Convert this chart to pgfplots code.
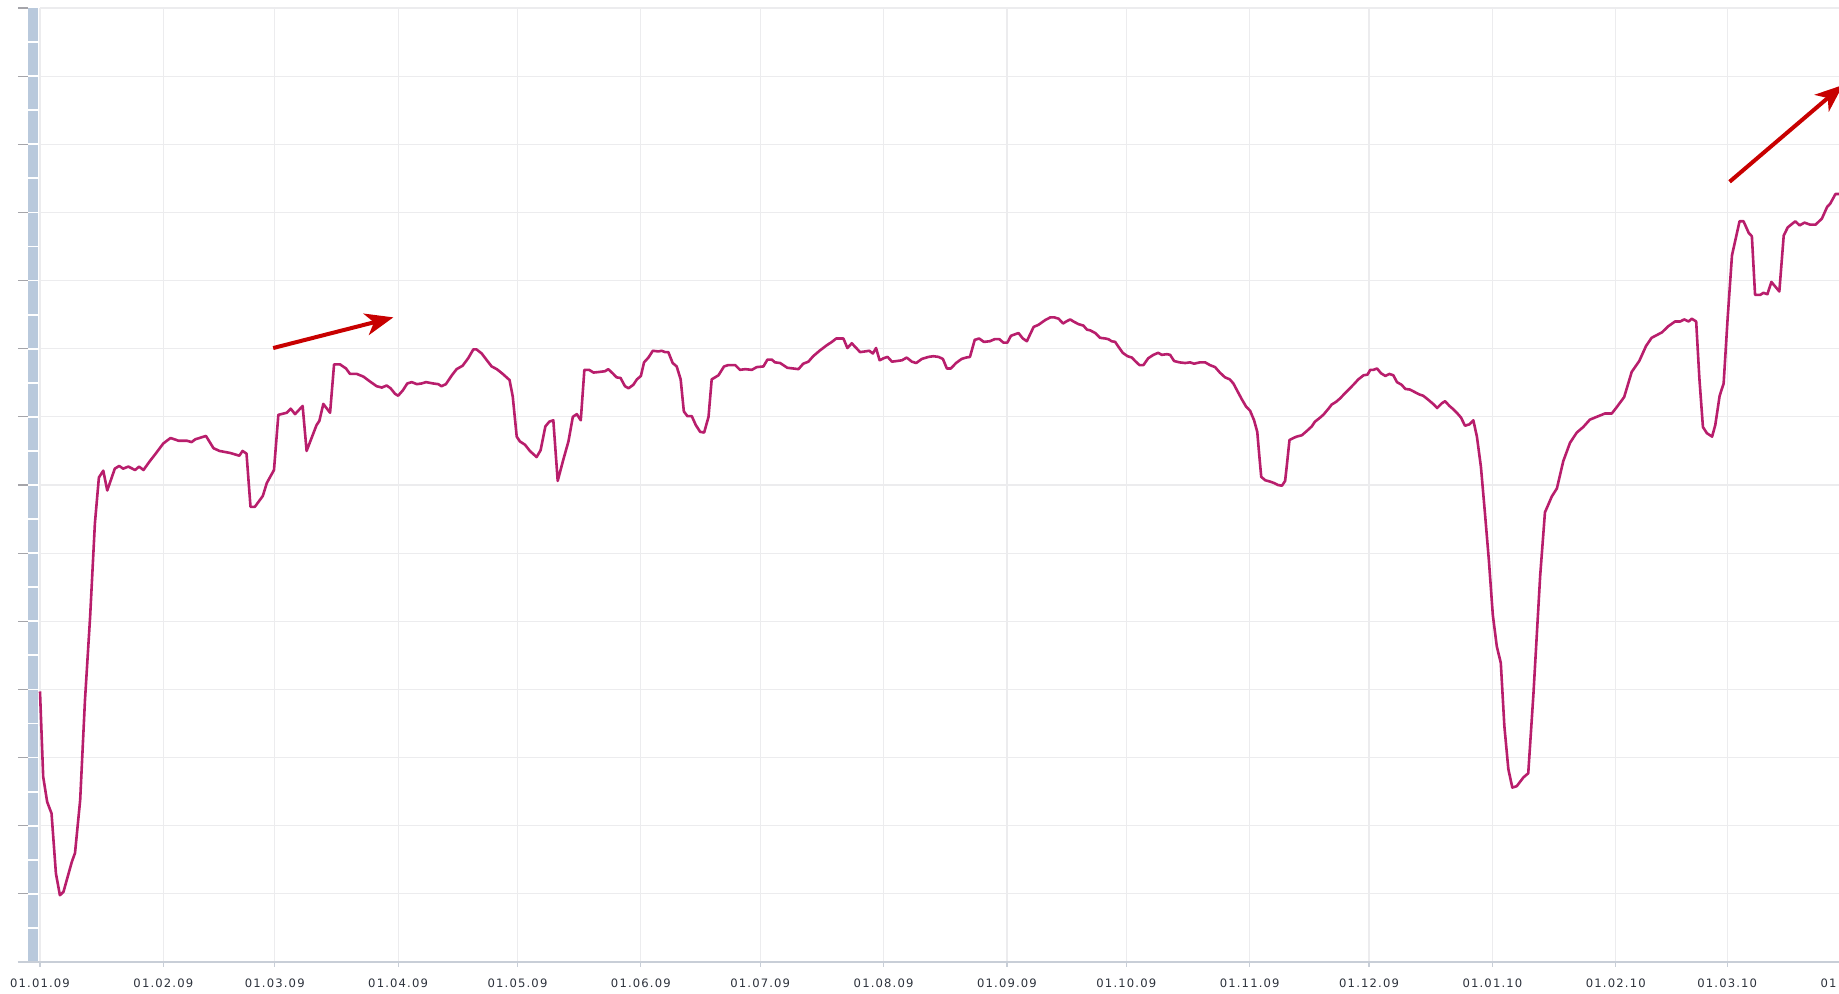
\documentclass[border=0pt]{standalone}
\usepackage{pgfplots}
\pgfplotsset{compat=1.18}
\usepackage{fontspec}
\usetikzlibrary{arrows.meta}
\newfontfamily\labfont[LetterSpace=10]{DejaVu Sans}
\definecolor{linec}{RGB}{184,30,108}
\definecolor{arrowc}{RGB}{200,0,0}
\definecolor{gridc}{RGB}{236,236,238}
\definecolor{stripc}{RGB}{185,201,220}
\definecolor{tickc}{RGB}{165,165,170}
\definecolor{axisc}{RGB}{200,206,215}
\definecolor{labc}{RGB}{45,50,60}
\tikzset{labsty/.style={font=\labfont\fontsize{5.8pt}{6.5pt}\selectfont, text=labc, inner sep=0pt, anchor=north}}
\begin{document}
\begin{tikzpicture}
\useasboundingbox (0,0) rectangle (919.5pt,496.5pt);
\clip (0,0) rectangle (919.5pt,496.5pt);
\begin{axis}[
 scale only axis, width=899.5pt, height=477pt,
 at={(20pt,15.5pt)}, anchor=south west,
 xmin=0, xmax=452.1, ymin=0, ymax=14,
 clip=false,
 axis line style={draw=none},
 xtick={0,31,59,90,120,151,181,212,243,273,304,334,365,396,424},
 xticklabels={01.01.09,01.02.09,01.03.09,01.04.09,01.05.09,01.06.09,01.07.09,01.08.09,01.09.09,01.10.09,01.11.09,01.12.09,01.01.10,01.02.10,01.03.10},
 ytick={0,...,14},
 yticklabels={,,},
 grid=major,
 major grid style={draw=gridc, line width=0.6pt},
 tick align=inside,
 xtick style={draw=none},
 ytick style={draw=none},
 xticklabel style={labsty, yshift=-8.0pt},
]
% left strip and ticks
\fill[stripc] (axis cs:-3.016,0) rectangle (axis cs:-0.503,14);
\pgfplotsinvokeforeach{0.5,1,1.5,2,2.5,3,3.5,4,4.5,5,5.5,6,6.5,7,7.5,8,8.5,9,9.5,10,10.5,11,11.5,12,12.5,13,13.5}{
 \draw[white, line width=0.9pt] (axis cs:-3.016,#1) -- (axis cs:-0.503,#1);
}
\pgfplotsinvokeforeach{0,1,2,3,4,5,6,7,8,9,10,11,12,13,14}{
 \draw[tickc, line width=0.6pt] (axis cs:-5.53,#1) -- (axis cs:-3.016,#1);
}
\draw[axisc, line width=0.8pt] (axis cs:-5.53,0) -- (axis cs:452.1,0);
\pgfplotsinvokeforeach{0,31,59,90,120,151,181,212,243,273,304,334,365,396,424}{
 \draw[axisc, line width=0.6pt] (axis cs:#1,0) -- ++(0,-2.5pt);
}
\node[labsty, yshift=-8.0pt] at (axis cs:455,0) {01.04.10};

\addplot[linec, line width=1.3pt, line join=round, mark=none] coordinates {
(0,3.97)(0.8,2.72)(1.8,2.35)(2.9,2.18)(4.0,1.30)(5.0,0.98)(5.9,1.03)(8.0,1.47)(8.8,1.60)(10.1,2.38)(11.3,3.84)(12.6,5.07)(13.8,6.44)(14.8,7.11)(15.9,7.21)(16.9,6.92)(18.8,7.24)(19.9,7.28)(20.9,7.24)(22.2,7.27)(23.9,7.22)(24.9,7.27)(26.0,7.22)(27.6,7.35)(29.2,7.47)(31.0,7.61)(32.8,7.69)(34.8,7.65)(36.9,7.65)(38.1,7.63)(39.0,7.67)(41.7,7.72)(43.6,7.54)(45.1,7.50)(47.8,7.47)(50.1,7.43)(50.9,7.50)(51.9,7.46)(52.9,6.68)(54.0,6.68)(56.0,6.84)(57.0,7.03)(58.8,7.22)(59.9,8.03)(62.0,8.06)(63.0,8.12)(64.1,8.04)(66.0,8.16)(67.0,7.50)(69.5,7.88)(70.2,7.94)(71.2,8.19)(72.9,8.06)
(73.9,8.77)(75.4,8.77)(76.9,8.71)(77.9,8.63)(79.6,8.63)(81.3,8.59)(82.9,8.52)(84.6,8.45)(85.9,8.43)(87.1,8.46)(88.1,8.42)(89.2,8.34)(90.0,8.31)(91.2,8.39)(92.3,8.49)(93.4,8.51)(94.7,8.48)(95.9,8.49)(97.0,8.51)(98.8,8.49)(100.1,8.48)(100.9,8.45)(102.0,8.48)(103.5,8.61)(104.7,8.70)(106.2,8.75)(107.6,8.86)(108.9,8.99)(109.7,8.99)(111.0,8.93)(112.3,8.83)(113.5,8.74)(114.8,8.70)(116.3,8.63)(118.0,8.54)(118.8,8.30)(119.8,7.71)(120.6,7.64)(121.9,7.59)(123.1,7.50)(124.8,7.41)(125.8,7.51)(127.0,7.86)(128.0,7.93)(129.0,7.95)(130.1,7.06)(131.5,7.37)(132.8,7.64)(133.9,8.00)(134.9,8.04)(135.9,7.95)(136.8,8.69)(138.0,8.69)(139.1,8.65)(140.7,8.66)(142.0,8.67)(142.8,8.70)(143.9,8.64)(144.9,8.58)(145.9,8.57)(147.0,8.45)(147.9,8.42)(149.1,8.47)(150.0,8.55)(151.0,8.60)(151.8,8.80)(152.9,8.87)(154.0,8.97)(155.4,8.96)(156.2,8.97)(157.1,8.95)(157.9,8.95)(159.0,8.79)(160.0,8.74)(161.0,8.55)(161.8,8.08)(162.7,8.01)(163.8,8.01)(164.8,7.88)(165.9,7.78)(166.9,7.77)(168.0,8.00)(168.8,8.55)(170.5,8.61)(171.9,8.74)(173.0,8.76)
(174.7,8.76)(175.9,8.69)(177.2,8.70)(178.9,8.69)(180.1,8.73)(181.8,8.74)(182.8,8.84)(183.9,8.84)(184.7,8.80)(186.0,8.79)(187.8,8.72)(189.3,8.71)(190.6,8.70)(191.8,8.78)(193.1,8.81)(194.3,8.89)(195.9,8.97)(197.7,9.05)(199.0,9.10)(200.1,9.15)(201.9,9.15)(202.9,9.01)(204.0,9.08)(204.8,9.03)(206.1,8.95)(207.3,8.96)(208.4,8.97)(209.3,8.93)(210.1,9.01)(211.0,8.83)(212.0,8.86)(213.0,8.88)(214.1,8.81)(215.4,8.82)(216.6,8.83)(217.8,8.87)(219.1,8.81)(220.2,8.79)(221.6,8.85)(223.3,8.88)(224.5,8.89)(225.8,8.88)(226.9,8.85)(227.9,8.71)(228.9,8.71)(230.2,8.79)(231.6,8.85)(232.7,8.87)(233.7,8.88)(234.9,9.13)(236.0,9.15)(237.2,9.10)(238.7,9.11)(239.9,9.14)(241.1,9.14)(242.1,9.09)(243.1,9.09)(244.0,9.19)(245.9,9.23)(247.0,9.15)(248.0,9.11)(249.7,9.32)(250.9,9.35)(252.6,9.42)(253.9,9.46)(254.9,9.46)(256.0,9.44)(257.1,9.37)(257.9,9.40)(258.9,9.43)(259.7,9.40)(261.0,9.36)(262.2,9.34)(263.1,9.28)(263.9,9.27)(265.2,9.23)(266.4,9.16)(267.7,9.15)(268.5,9.14)(269.3,9.11)(270.2,9.10)(271.0,9.03)(272.1,8.94)(273.3,8.89)
(274.4,8.87)(275.2,8.82)(276.3,8.76)(277.3,8.76)(278.5,8.86)(279.8,8.91)(281.0,8.94)(281.9,8.91)(283.2,8.92)(284.0,8.91)(285.0,8.82)(286.3,8.80)(287.8,8.79)(289.0,8.80)(290.0,8.78)(291.5,8.80)(292.8,8.80)(294.0,8.76)(295.3,8.73)(296.5,8.65)(297.8,8.58)(299.0,8.55)(299.9,8.49)(300.9,8.38)(302.0,8.26)(303.1,8.15)(304.1,8.09)(305.1,7.95)(305.9,7.78)(306.4,7.44)(306.9,7.12)(307.9,7.07)(309.1,7.05)(310.1,7.03)(311.1,7.00)(312.1,6.99)(312.9,7.06)(313.3,7.27)(314.0,7.66)(315.0,7.69)(315.8,7.71)(317.1,7.73)(318.3,7.79)(319.6,7.86)(320.4,7.93)(321.5,7.98)(322.5,8.03)(323.8,8.12)(324.6,8.18)(325.7,8.22)(326.7,8.27)(328.0,8.35)(329.2,8.42)(330.2,8.48)(331.3,8.55)(332.6,8.61)(333.6,8.62)(334.3,8.69)(335.1,8.69)(336.0,8.71)(337.0,8.64)(338.1,8.60)(339.1,8.63)(340.1,8.61)(341.0,8.51)(342.2,8.47)(343.1,8.41)(344.3,8.40)(345.6,8.36)(346.6,8.33)(347.6,8.31)(348.9,8.25)(350.1,8.19)(351.1,8.13)(352.3,8.20)(353.1,8.23)(354.2,8.16)(355.2,8.11)(356.2,8.05)(357.1,7.99)(358.1,7.87)(359.2,7.89)(360.2,7.95)(361.1,7.71)(362.1,7.27)
(363.1,6.6)(364.1,5.9)(365.1,5.09)(366.1,4.63)(367.1,4.39)(368.0,3.46)(369.0,2.83)(370.0,2.56)(371.1,2.58)(372.8,2.71)(374.0,2.77)(375.3,3.93)(377.0,5.67)(378.2,6.60)(379.1,6.72)(379.9,6.83)(381.2,6.95)(382.8,7.35)(384.5,7.62)(386.2,7.77)(387.8,7.85)(389.5,7.96)(391.2,8.00)(393.3,8.05)(395.0,8.05)(396.2,8.14)(398.1,8.29)(400.0,8.66)(401.9,8.82)(403.6,9.04)(405.0,9.16)(407.6,9.24)(409.2,9.33)(410.9,9.40)(412.2,9.40)(413.2,9.43)(414.3,9.40)(415.1,9.44)(416.2,9.40)(417.0,8.57)(417.9,7.85)(418.9,7.76)(420.2,7.71)(421.0,7.88)(422.1,8.31)(423.1,8.49)(424.1,9.44)(425.2,10.37)(426.3,10.66)(427.1,10.87)(428.1,10.87)(429.4,10.70)(430.2,10.65)(431.0,9.79)(432.3,9.79)(433.1,9.82)(434.1,9.80)(435.1,9.98)(436.1,9.91)(437.1,9.84)(438.2,10.66)(439.2,10.78)(441.1,10.87)(442.2,10.81)(443.4,10.85)(444.9,10.82)(446.2,10.82)(447.8,10.91)(449.1,11.08)(449.9,11.13)(451.2,11.27)(452.1,11.27)
};
% annotation arrows
\draw[arrowc, line width=2pt, -{Stealth[length=14pt, width=11pt, inset=4pt]}] (axis cs:58.6,9.01) -- (axis cs:88.8,9.46);
\draw[arrowc, line width=2pt, -{Stealth[length=14pt, width=11pt, inset=4pt]}] (axis cs:424.6,11.45) -- (axis cs:453.1,12.87);
\end{axis}
\end{tikzpicture}
\end{document}
